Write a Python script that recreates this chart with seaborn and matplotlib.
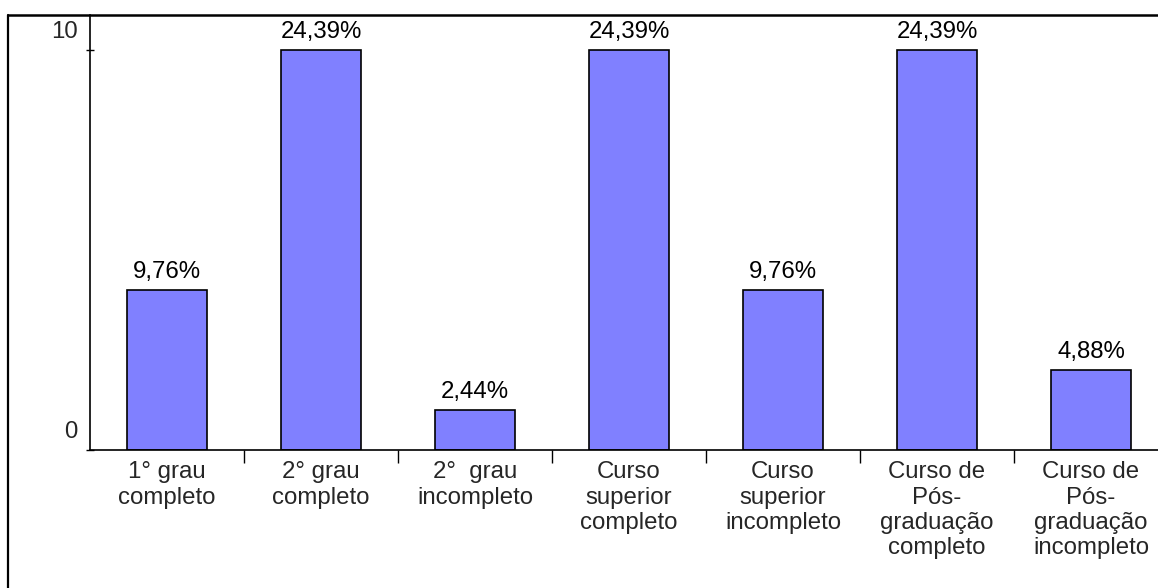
import matplotlib
matplotlib.use("Agg")
import matplotlib.pyplot as plt
import matplotlib.transforms as mtransforms
from matplotlib.lines import Line2D
import seaborn as sns

# Escolaridade dos respondentes (número de pessoas por categoria)
categorias = [
    "1° grau\ncompleto",
    "2° grau\ncompleto",
    "2°  grau\nincompleto",
    "Curso\nsuperior\ncompleto",
    "Curso\nsuperior\nincompleto",
    "Curso de\nPós-\ngraduação\ncompleto",
    "Curso de\nPós-\ngraduação\nincompleto",
]
contagens = [4, 10, 1, 10, 4, 10, 2]
yticks = [0, 10]

total = sum(contagens)
rotulos = [f"{c / total * 100:.2f}".replace(".", ",") + "%" for c in contagens]

sns.set_theme(style="white")
plt.rcParams["font.family"] = ["Liberation Sans", "DejaVu Sans"]
FS = 17.3

W, H = 1158, 588
fig = plt.figure(figsize=(W / 100, H / 100), dpi=100)
fig.patch.set_facecolor("white")

# Axes placed so the x range runs slightly past the right edge of the figure
ax = fig.add_axes([90 / W, 1 - 450 / H, (1168 - 90) / W, (450 - 15) / H])

sns.barplot(x=categorias, y=contagens, color="#8080FF", saturation=1,
            edgecolor="black", linewidth=1.2, width=0.52, ax=ax)

ax.set_xlim(-0.5, len(categorias) - 0.5)
ax.set_ylim(0, 10.875)

for i, (c, r) in enumerate(zip(contagens, rotulos)):
    ax.annotate(r, (i, c), xytext=(0, 5), textcoords="offset points",
                ha="center", va="bottom", fontsize=FS, color="black")

# Spines
for s in ["top", "right"]:
    ax.spines[s].set_visible(False)
for s in ["left", "bottom"]:
    ax.spines[s].set_color("black")
    ax.spines[s].set_linewidth(1.2)

# Y ticks: crossing marks, labels raised above the tick
ax.set_yticks(yticks)
ax.set_yticklabels([str(v) for v in yticks], fontsize=FS)
ax.tick_params(axis="y", direction="inout", length=6, width=1, color="black",
               pad=6, left=True)
shift = mtransforms.ScaledTranslation(0, 20 / 100, fig.dpi_scale_trans)
for lab in ax.get_yticklabels():
    lab.set_transform(lab.get_transform() + shift)

# X ticks: labels under bars, marks at the category boundaries
ax.set_xticks(range(len(categorias)))
ax.set_xticklabels(categorias, fontsize=FS, linespacing=1.2)
ax.tick_params(axis="x", length=0, pad=8)
ax.set_xticks([i + 0.5 for i in range(len(categorias) - 1)], minor=True)
ax.tick_params(axis="x", which="minor", direction="out", length=9, width=1,
               color="black", bottom=True)
ax.set_xlabel("")
ax.set_ylabel("")
ax.grid(False)

# Outer frame (top and left edges)
fig.add_artist(Line2D([8 / W, 8 / W], [1 - 15 / H, -0.01], transform=fig.transFigure,
                      color="black", linewidth=1.6))
fig.add_artist(Line2D([8 / W, 1.01], [1 - 15 / H, 1 - 15 / H], transform=fig.transFigure,
                      color="black", linewidth=1.8))

fig.savefig("out.png", dpi=100)
